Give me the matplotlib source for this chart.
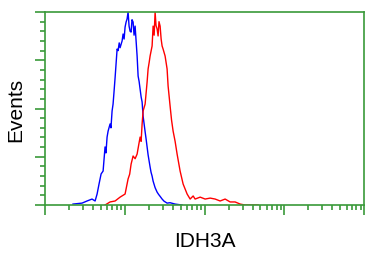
import matplotlib
matplotlib.use('Agg')
import matplotlib.pyplot as plt
from matplotlib.ticker import LogLocator, MultipleLocator, NullFormatter

# интенсивность флуоресценции (лог. шкала) и число событий, % от максимума
blue_x = [2.24, 2.91, 3.36, 3.88, 4.24, 4.49, 4.75, 5.04, 5.34, 5.65, 5.80, 5.99, 6.17,
          6.53, 6.70, 6.92, 7.12, 7.30, 7.55, 8.00, 8.23, 8.50, 8.72, 9.24, 9.51, 9.79,
          10.07, 10.37, 10.67, 10.98, 11.30, 11.64, 11.98, 12.30, 12.69, 13.05, 13.45,
          14.25, 14.67, 15.10, 15.54, 16.00, 16.46, 16.94, 17.95, 18.50, 19.01, 19.57,
          20.73, 21.30, 21.96, 22.61, 23.95, 25.37, 26.50, 27.67, 29.31, 31.00, 33.85,
          36.92, 42.66, 52.22]
blue_y = [0.5, 1.0, 2.1, 3.1, 2.1, 5.7, 10.9, 16.1, 17.6, 30.1, 27.0, 35.2, 38.3,
          42.0, 40.0, 48.7, 52.3, 58.0, 66.0, 80.8, 80.0, 84.0, 81.5, 85.0, 88.6, 86.0,
          92.2, 94.8, 96.4, 100.0, 92.7, 90.0, 89.6, 96.0, 94.8, 88.0, 92.7,
          77.2, 66.8, 64.0, 60.0, 56.0, 53.4, 46.1, 38.0, 34.0, 30.1, 26.0,
          19.7, 17.0, 15.0, 12.4, 9.0, 6.7, 5.5, 4.5, 3.1, 2.0, 1.0,
          1.2, 0.5, 0.0]

red_x = [5.65, 6.53, 7.55, 8.72, 10.07, 10.98, 11.50, 11.98, 12.69, 13.45, 14.25, 14.90,
         15.54, 16.00, 16.46, 16.94, 17.95, 19.01, 19.57, 20.20, 20.73, 21.96, 22.61,
         23.30, 23.95, 24.60, 25.37, 26.11, 26.80, 27.67, 28.50, 29.31, 30.17, 31.96,
         33.85, 34.85, 36.92, 38.50, 40.27, 42.66, 45.19, 49.29, 53.75, 60.35, 65.8,
         71.8, 76.0, 87.9, 101.5, 117.2, 135.5, 156.4, 180.7, 208.8, 241.0, 279.0,
         322.0, 372.0, 469.0]
red_y = [0.0, 1.6, 2.1, 4.1, 5.7, 13.5, 16.0, 21.2, 25.4, 24.0, 26.4, 31.0,
         35.2, 33.0, 42.0, 48.7, 52.3, 63.7, 70.5, 74.0, 77.2, 82.4, 92.7,
         88.0, 100.0, 93.0, 91.2, 87.6, 95.0, 92.7, 86.0, 82.4, 80.8, 77.2,
         70.5, 61.7, 51.3, 44.0, 38.3, 33.0, 26.4, 17.6, 10.9, 5.7, 3.1,
         4.7, 3.1, 4.1, 3.1, 3.6, 3.1, 2.1, 3.1, 1.6, 1.6, 0.5,
         0.0, 0.0, 0.0]

green = '#3a9a3a'

fig = plt.figure(figsize=(3.85, 2.55), dpi=100)
ax = fig.add_axes([0.117, 0.192, 0.829, 0.757])

ax.plot(blue_x, blue_y, color='#0000ff', lw=1.0)
ax.plot(red_x, red_y, color='#ff0000', lw=1.0)

ax.set_xscale('log')
ax.set_xlim(1, 1e4)
ax.set_ylim(0, 100)

for s in ax.spines.values():
    s.set_color(green)
    s.set_linewidth(1.2)

ax.xaxis.set_major_locator(LogLocator(base=10, numticks=10))
ax.xaxis.set_minor_locator(LogLocator(base=10, subs=range(2, 10), numticks=10))
ax.xaxis.set_major_formatter(NullFormatter())
ax.xaxis.set_minor_formatter(NullFormatter())
ax.yaxis.set_major_locator(MultipleLocator(25))
ax.yaxis.set_minor_locator(MultipleLocator(5))
ax.yaxis.set_major_formatter(NullFormatter())

ax.tick_params(which='major', direction='out', color=green, width=1.2, length=7)
ax.tick_params(which='minor', direction='out', color=green, width=1.2, length=3.5)
ax.tick_params(top=False, right=False)

ax.set_xlabel('IDH3A', fontsize=15, family='Liberation Sans', labelpad=8)
ax.set_ylabel('Events', fontsize=15, family='Liberation Sans', labelpad=4)

fig.savefig('out.png', dpi=100)
